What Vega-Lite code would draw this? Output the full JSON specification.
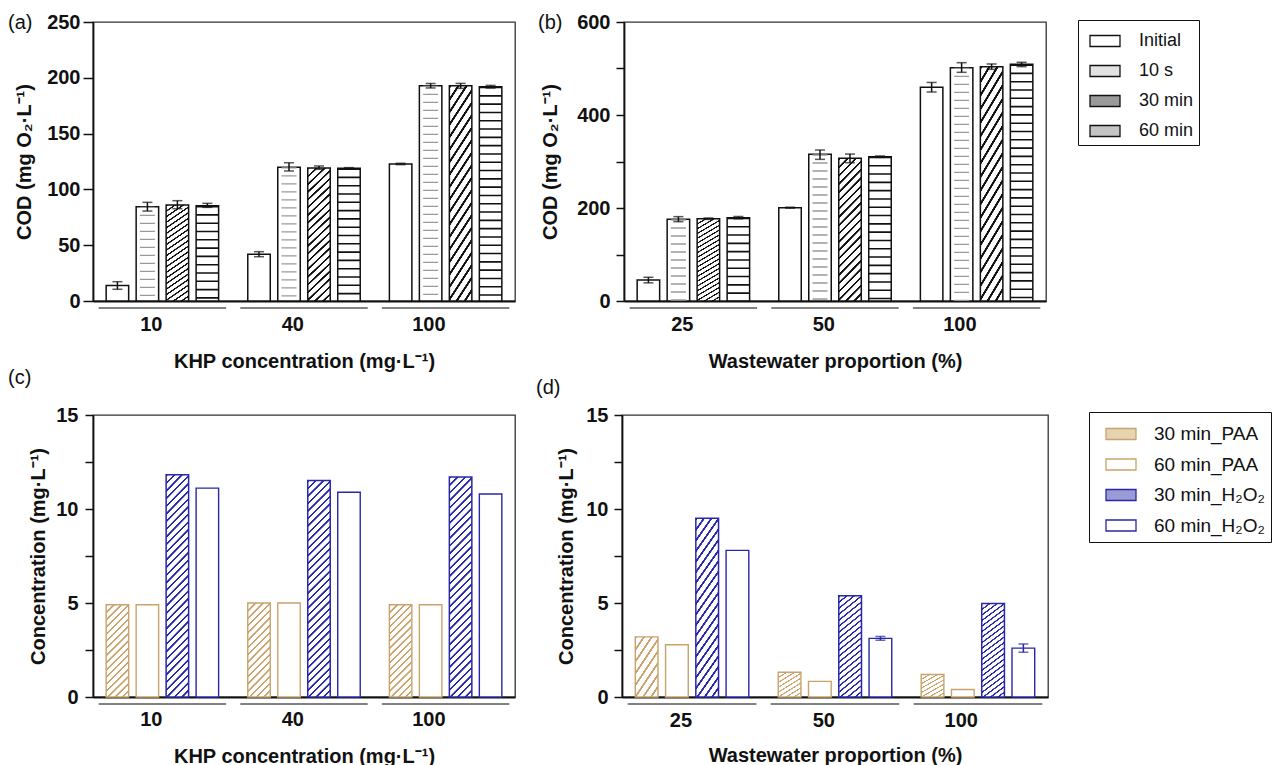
{
"$schema": "https://vega.github.io/schema/vega-lite/v6.json",
"padding": {"left": 7, "top": 11, "right": 5, "bottom": 0},
"background": "white",
"bounds": "flush",
"spacing": 393,
"resolve": {"scale": {"xOffset": "independent"}},
"config": {
  "font": "Liberation Sans",
  "view": {"stroke": "#333", "strokeWidth": 1.3},
  "axis": {"labelFont": "Liberation Sans", "labelFontSize": 20, "labelFontWeight": "bold", "labelColor": "#111",
           "titleFont": "Liberation Sans", "titleFontSize": 20, "titleFontWeight": "bold", "titleColor": "#111",
           "domainColor": "#111", "domainWidth": 1.8, "tickColor": "#111", "tickWidth": 1.5, "grid": false},
  "title": {"font": "Liberation Sans", "fontSize": 20, "fontWeight": "normal", "color": "#111", "anchor": "start", "frame": "group", "offset": 0}
},
"datasets": {
  "A": [
    {"g":"10","s":"Initial","v":14,"lo":10.5,"hi":17.3},
    {"g":"10","s":"10 s","v":84.5,"lo":80.6,"hi":88.4},
    {"g":"10","s":"30 min","v":86,"lo":82.7,"hi":89.9},
    {"g":"10","s":"60 min","v":85.3,"lo":83.9,"hi":87.5},
    {"g":"40","s":"Initial","v":41.8,"lo":39.7,"hi":44.2},
    {"g":"40","s":"10 s","v":119.8,"lo":116.5,"hi":123.9},
    {"g":"40","s":"30 min","v":119.2,"lo":118,"hi":121},
    {"g":"40","s":"60 min","v":118.9,"lo":118.3,"hi":119.5},
    {"g":"100","s":"Initial","v":122.8,"lo":122.2,"hi":123.4},
    {"g":"100","s":"10 s","v":192.9,"lo":190.9,"hi":194.9},
    {"g":"100","s":"30 min","v":192.8,"lo":190.5,"hi":195},
    {"g":"100","s":"60 min","v":192,"lo":190.8,"hi":193.2}
  ],
  "B": [
    {"g":"25","s":"Initial","v":45.2,"lo":39,"hi":51},
    {"g":"25","s":"10 s","v":175.6,"lo":170.6,"hi":181.4},
    {"g":"25","s":"30 min","v":177,"lo":175.5,"hi":178.5},
    {"g":"25","s":"60 min","v":179.2,"lo":176.7,"hi":181.7},
    {"g":"50","s":"Initial","v":200.7,"lo":199.7,"hi":201.7},
    {"g":"50","s":"10 s","v":315.4,"lo":304.6,"hi":324.7},
    {"g":"50","s":"30 min","v":306.8,"lo":297.4,"hi":316},
    {"g":"50","s":"60 min","v":310.4,"lo":308.9,"hi":311.9},
    {"g":"100","s":"Initial","v":459.5,"lo":449.5,"hi":470},
    {"g":"100","s":"10 s","v":501.8,"lo":491.8,"hi":512.5},
    {"g":"100","s":"30 min","v":503.9,"lo":498.2,"hi":509.7},
    {"g":"100","s":"60 min","v":509,"lo":504,"hi":513.3}
  ],
  "C": [
    {"g":"10","s":"30 min_PAA","v":4.91},{"g":"10","s":"60 min_PAA","v":4.91},{"g":"10","s":"30 min_H₂O₂","v":11.82},{"g":"10","s":"60 min_H₂O₂","v":11.11},
    {"g":"40","s":"30 min_PAA","v":5.0},{"g":"40","s":"60 min_PAA","v":5.0},{"g":"40","s":"30 min_H₂O₂","v":11.52},{"g":"40","s":"60 min_H₂O₂","v":10.89},
    {"g":"100","s":"30 min_PAA","v":4.91},{"g":"100","s":"60 min_PAA","v":4.91},{"g":"100","s":"30 min_H₂O₂","v":11.7},{"g":"100","s":"60 min_H₂O₂","v":10.8}
  ],
  "D": [
    {"g":"25","s":"30 min_PAA","v":3.2},{"g":"25","s":"60 min_PAA","v":2.78},{"g":"25","s":"30 min_H₂O₂","v":9.51},{"g":"25","s":"60 min_H₂O₂","v":7.8},
    {"g":"50","s":"30 min_PAA","v":1.32},{"g":"50","s":"60 min_PAA","v":0.83},{"g":"50","s":"30 min_H₂O₂","v":5.39},{"g":"50","s":"60 min_H₂O₂","v":3.12,"lo":3.02,"hi":3.22},
    {"g":"100","s":"30 min_PAA","v":1.2},{"g":"100","s":"60 min_PAA","v":0.4},{"g":"100","s":"30 min_H₂O₂","v":4.98},{"g":"100","s":"60 min_H₂O₂","v":2.6,"lo":2.38,"hi":2.82}
  ]
},
"vconcat": [
{"hconcat": [
{
  "width": 422, "height": 279,
  "title": {"text": "(a)", "dx": -85, "dy": 45, "baseline": "bottom"},
  "data": {"name": "A"},
  "layer": [
    {"transform": [{"filter": "datum.s === '30 min'"}],
     "mark": {"type": "bar", "stroke": "#111", "strokeWidth": 1.5,
              "fill": {"gradient":"linear","x1":0,"y1":0,"x2":0.1818,"y2":1.1315,"stops":[
                {"offset":0,"color":"#111"},{"offset":0.012,"color":"#111"},{"offset":0.015,"color":"white"},{"offset":0.047,"color":"white"},
                {"offset":0.05,"color":"#111"},{"offset":0.062,"color":"#111"},{"offset":0.065,"color":"white"},{"offset":0.097,"color":"white"},
                {"offset":0.1,"color":"#111"},{"offset":0.112,"color":"#111"},{"offset":0.115,"color":"white"},{"offset":0.147,"color":"white"},
                {"offset":0.15,"color":"#111"},{"offset":0.162,"color":"#111"},{"offset":0.165,"color":"white"},{"offset":0.197,"color":"white"},
                {"offset":0.2,"color":"#111"},{"offset":0.212,"color":"#111"},{"offset":0.215,"color":"white"},{"offset":0.247,"color":"white"},
                {"offset":0.25,"color":"#111"},{"offset":0.262,"color":"#111"},{"offset":0.265,"color":"white"},{"offset":0.297,"color":"white"},
                {"offset":0.3,"color":"#111"},{"offset":0.312,"color":"#111"},{"offset":0.315,"color":"white"},{"offset":0.347,"color":"white"},
                {"offset":0.35,"color":"#111"},{"offset":0.362,"color":"#111"},{"offset":0.365,"color":"white"},{"offset":0.397,"color":"white"},
                {"offset":0.4,"color":"#111"},{"offset":0.412,"color":"#111"},{"offset":0.415,"color":"white"},{"offset":0.447,"color":"white"},
                {"offset":0.45,"color":"#111"},{"offset":0.462,"color":"#111"},{"offset":0.465,"color":"white"},{"offset":0.497,"color":"white"},
                {"offset":0.5,"color":"#111"},{"offset":0.512,"color":"#111"},{"offset":0.515,"color":"white"},{"offset":0.547,"color":"white"},
                {"offset":0.55,"color":"#111"},{"offset":0.562,"color":"#111"},{"offset":0.565,"color":"white"},{"offset":0.597,"color":"white"},
                {"offset":0.6,"color":"#111"},{"offset":0.612,"color":"#111"},{"offset":0.615,"color":"white"},{"offset":0.647,"color":"white"},
                {"offset":0.65,"color":"#111"},{"offset":0.662,"color":"#111"},{"offset":0.665,"color":"white"},{"offset":0.697,"color":"white"},
                {"offset":0.7,"color":"#111"},{"offset":0.712,"color":"#111"},{"offset":0.715,"color":"white"},{"offset":0.747,"color":"white"},
                {"offset":0.75,"color":"#111"},{"offset":0.762,"color":"#111"},{"offset":0.765,"color":"white"},{"offset":0.797,"color":"white"},
                {"offset":0.8,"color":"#111"},{"offset":0.812,"color":"#111"},{"offset":0.815,"color":"white"},{"offset":0.847,"color":"white"},
                {"offset":0.85,"color":"#111"},{"offset":0.862,"color":"#111"},{"offset":0.865,"color":"white"},{"offset":0.897,"color":"white"},
                {"offset":0.9,"color":"#111"},{"offset":0.912,"color":"#111"},{"offset":0.915,"color":"white"},{"offset":0.947,"color":"white"},
                {"offset":0.95,"color":"#111"},{"offset":0.962,"color":"#111"},{"offset":0.965,"color":"white"},{"offset":0.997,"color":"white"}]}},
     "encoding": {
       "x": {"field":"g","type":"nominal","scale":{"type":"band","domain":["10","40","100"],"paddingInner":0.1,"paddingOuter":0.04}},
       "xOffset": {"field":"s","type":"nominal","scale":{"type":"band","domain":["Initial","10 s","30 min","60 min"],"paddingInner":0.25,"paddingOuter":0.25}},
       "y": {"field":"v","type":"quantitative","scale":{"domain":[0,250],"nice":false}}}},
    {"transform": [{"filter": "datum.s !== '30 min'"}],
     "mark": {"type": "bar", "fill": "white", "stroke": "#111", "strokeWidth": 1.5},
     "encoding": {
       "x": {"field":"g","type":"nominal","scale":{"type":"band","domain":["10","40","100"],"paddingInner":0.1,"paddingOuter":0.04},"axis":{"title":"KHP concentration (mg·L⁻¹)","domain":true,"ticks":false,"tickSize":0,"labelPadding":23,"labelAngle":0,"titlePadding":17}},
       "xOffset": {"field":"s","type":"nominal","scale":{"type":"band","domain":["Initial","10 s","30 min","60 min"],"paddingInner":0.25,"paddingOuter":0.25}},
       "y": {"field":"v","type":"quantitative","scale":{"domain":[0,250],"nice":false},
             "axis":{"title":"COD (mg O₂·L⁻¹)","values":[0,50,100,150,200,250],"tickSize":10,"labelPadding":3,"titlePadding":12}}}},
    {"transform": [{"filter": "datum.s === '60 min'"}],
     "mark": {"type": "rule", "stroke": "#111", "strokeWidth": 22.5, "strokeDash": [1.6, 6.7]},
     "encoding": {
       "x": {"field":"g","type":"nominal","scale":{"type":"band","domain":["10","40","100"],"paddingInner":0.1,"paddingOuter":0.04}},
       "xOffset": {"field":"s","type":"nominal","scale":{"type":"band","domain":["Initial","10 s","30 min","60 min"],"paddingInner":0.25,"paddingOuter":0.25}},
       "y": {"field":"v","type":"quantitative","scale":{"domain":[0,250],"nice":false}}}},
    {"transform": [{"filter": "datum.s === '10 s'"}],
     "mark": {"type": "rule", "stroke": "#9a9a9a", "strokeWidth": 15, "strokeDash": [1.3, 6.7]},
     "encoding": {
       "x": {"field":"g","type":"nominal","scale":{"type":"band","domain":["10","40","100"],"paddingInner":0.1,"paddingOuter":0.04}},
       "xOffset": {"field":"s","type":"nominal","scale":{"type":"band","domain":["Initial","10 s","30 min","60 min"],"paddingInner":0.25,"paddingOuter":0.25}},
       "y": {"field":"v","type":"quantitative","scale":{"domain":[0,250],"nice":false}}}},
    {"mark": {"type": "rule", "stroke": "#111", "strokeWidth": 1.5},
     "encoding": {
       "x": {"field":"g","type":"nominal","scale":{"type":"band","domain":["10","40","100"],"paddingInner":0.1,"paddingOuter":0.04}},
       "xOffset": {"field":"s","type":"nominal","scale":{"type":"band","domain":["Initial","10 s","30 min","60 min"],"paddingInner":0.25,"paddingOuter":0.25}},
       "y": {"field":"lo","type":"quantitative","scale":{"domain":[0,250],"nice":false}},
       "y2": {"field":"hi"}}},
    {"mark": {"type": "tick", "color": "#111", "size": 10, "thickness": 1.5},
     "encoding": {
       "x": {"field":"g","type":"nominal","scale":{"type":"band","domain":["10","40","100"],"paddingInner":0.1,"paddingOuter":0.04}},
       "xOffset": {"field":"s","type":"nominal","scale":{"type":"band","domain":["Initial","10 s","30 min","60 min"],"paddingInner":0.25,"paddingOuter":0.25}},
       "y": {"field":"lo","type":"quantitative","scale":{"domain":[0,250],"nice":false}}}},
    {"mark": {"type": "tick", "color": "#111", "size": 10, "thickness": 1.5},
     "encoding": {
       "x": {"field":"g","type":"nominal","scale":{"type":"band","domain":["10","40","100"],"paddingInner":0.1,"paddingOuter":0.04}},
       "xOffset": {"field":"s","type":"nominal","scale":{"type":"band","domain":["Initial","10 s","30 min","60 min"],"paddingInner":0.25,"paddingOuter":0.25}},
       "y": {"field":"hi","type":"quantitative","scale":{"domain":[0,250],"nice":false}}}},
    {"transform": [{"filter": "datum.s === 'Initial'"}],
     "mark": {"type": "tick", "color": "#111", "size": 127.4, "thickness": 1.6, "yOffset": 7},
     "encoding": {
       "x": {"field":"g","type":"nominal","scale":{"type":"band","domain":["10","40","100"],"paddingInner":0.1,"paddingOuter":0.04}},
       "y": {"datum":0,"type":"quantitative","scale":{"domain":[0,250],"nice":false}}}}
  ]
},
{
  "width": 422, "height": 279,
  "title": {"text": "(b)", "dx": -86, "dy": 45, "baseline": "bottom"},
  "data": {"name": "B"},
  "layer": [
    {"transform": [{"filter": "datum.s === '30 min'"}],
     "mark": {"type": "bar", "stroke": "#111", "strokeWidth": 1.5,
              "fill": {"gradient":"linear","x1":0,"y1":0,"x2":0.1818,"y2":1.1315,"stops":[
                {"offset":0,"color":"#111"},{"offset":0.012,"color":"#111"},{"offset":0.015,"color":"white"},{"offset":0.047,"color":"white"},
                {"offset":0.05,"color":"#111"},{"offset":0.062,"color":"#111"},{"offset":0.065,"color":"white"},{"offset":0.097,"color":"white"},
                {"offset":0.1,"color":"#111"},{"offset":0.112,"color":"#111"},{"offset":0.115,"color":"white"},{"offset":0.147,"color":"white"},
                {"offset":0.15,"color":"#111"},{"offset":0.162,"color":"#111"},{"offset":0.165,"color":"white"},{"offset":0.197,"color":"white"},
                {"offset":0.2,"color":"#111"},{"offset":0.212,"color":"#111"},{"offset":0.215,"color":"white"},{"offset":0.247,"color":"white"},
                {"offset":0.25,"color":"#111"},{"offset":0.262,"color":"#111"},{"offset":0.265,"color":"white"},{"offset":0.297,"color":"white"},
                {"offset":0.3,"color":"#111"},{"offset":0.312,"color":"#111"},{"offset":0.315,"color":"white"},{"offset":0.347,"color":"white"},
                {"offset":0.35,"color":"#111"},{"offset":0.362,"color":"#111"},{"offset":0.365,"color":"white"},{"offset":0.397,"color":"white"},
                {"offset":0.4,"color":"#111"},{"offset":0.412,"color":"#111"},{"offset":0.415,"color":"white"},{"offset":0.447,"color":"white"},
                {"offset":0.45,"color":"#111"},{"offset":0.462,"color":"#111"},{"offset":0.465,"color":"white"},{"offset":0.497,"color":"white"},
                {"offset":0.5,"color":"#111"},{"offset":0.512,"color":"#111"},{"offset":0.515,"color":"white"},{"offset":0.547,"color":"white"},
                {"offset":0.55,"color":"#111"},{"offset":0.562,"color":"#111"},{"offset":0.565,"color":"white"},{"offset":0.597,"color":"white"},
                {"offset":0.6,"color":"#111"},{"offset":0.612,"color":"#111"},{"offset":0.615,"color":"white"},{"offset":0.647,"color":"white"},
                {"offset":0.65,"color":"#111"},{"offset":0.662,"color":"#111"},{"offset":0.665,"color":"white"},{"offset":0.697,"color":"white"},
                {"offset":0.7,"color":"#111"},{"offset":0.712,"color":"#111"},{"offset":0.715,"color":"white"},{"offset":0.747,"color":"white"},
                {"offset":0.75,"color":"#111"},{"offset":0.762,"color":"#111"},{"offset":0.765,"color":"white"},{"offset":0.797,"color":"white"},
                {"offset":0.8,"color":"#111"},{"offset":0.812,"color":"#111"},{"offset":0.815,"color":"white"},{"offset":0.847,"color":"white"},
                {"offset":0.85,"color":"#111"},{"offset":0.862,"color":"#111"},{"offset":0.865,"color":"white"},{"offset":0.897,"color":"white"},
                {"offset":0.9,"color":"#111"},{"offset":0.912,"color":"#111"},{"offset":0.915,"color":"white"},{"offset":0.947,"color":"white"},
                {"offset":0.95,"color":"#111"},{"offset":0.962,"color":"#111"},{"offset":0.965,"color":"white"},{"offset":0.997,"color":"white"}]}},
     "encoding": {
       "x": {"field":"g","type":"nominal","scale":{"type":"band","domain":["25","50","100"],"paddingInner":0.1,"paddingOuter":0.04}},
       "xOffset": {"field":"s","type":"nominal","scale":{"type":"band","domain":["Initial","10 s","30 min","60 min"],"paddingInner":0.25,"paddingOuter":0.25}},
       "y": {"field":"v","type":"quantitative","scale":{"domain":[0,600],"nice":false}}}},
    {"transform": [{"filter": "datum.s !== '30 min'"}],
     "mark": {"type": "bar", "fill": "white", "stroke": "#111", "strokeWidth": 1.5},
     "encoding": {
       "x": {"field":"g","type":"nominal","scale":{"type":"band","domain":["25","50","100"],"paddingInner":0.1,"paddingOuter":0.04},"axis":{"title":"Wastewater proportion (%)","domain":true,"ticks":false,"tickSize":0,"labelPadding":23,"labelAngle":0,"titlePadding":17}},
       "xOffset": {"field":"s","type":"nominal","scale":{"type":"band","domain":["Initial","10 s","30 min","60 min"],"paddingInner":0.25,"paddingOuter":0.25}},
       "y": {"field":"v","type":"quantitative","scale":{"domain":[0,600],"nice":false},
             "axis":{"title":"COD (mg O₂·L⁻¹)","values":[0,50,100,150,200,250,300,350,400,450,500,550,600],
                     "labelExpr":"datum.value % 200 === 0 ? datum.label : ''",
                     "tickSize":8,"labelPadding":6,"titlePadding":16}}}},
    {"transform": [{"filter": "datum.s === '60 min'"}],
     "mark": {"type": "rule", "stroke": "#111", "strokeWidth": 22.5, "strokeDash": [1.6, 6.7]},
     "encoding": {
       "x": {"field":"g","type":"nominal","scale":{"type":"band","domain":["25","50","100"],"paddingInner":0.1,"paddingOuter":0.04}},
       "xOffset": {"field":"s","type":"nominal","scale":{"type":"band","domain":["Initial","10 s","30 min","60 min"],"paddingInner":0.25,"paddingOuter":0.25}},
       "y": {"field":"v","type":"quantitative","scale":{"domain":[0,600],"nice":false}}}},
    {"transform": [{"filter": "datum.s === '10 s'"}],
     "mark": {"type": "rule", "stroke": "#9a9a9a", "strokeWidth": 15, "strokeDash": [1.3, 6.7]},
     "encoding": {
       "x": {"field":"g","type":"nominal","scale":{"type":"band","domain":["25","50","100"],"paddingInner":0.1,"paddingOuter":0.04}},
       "xOffset": {"field":"s","type":"nominal","scale":{"type":"band","domain":["Initial","10 s","30 min","60 min"],"paddingInner":0.25,"paddingOuter":0.25}},
       "y": {"field":"v","type":"quantitative","scale":{"domain":[0,600],"nice":false}}}},
    {"mark": {"type": "rule", "stroke": "#111", "strokeWidth": 1.5},
     "encoding": {
       "x": {"field":"g","type":"nominal","scale":{"type":"band","domain":["25","50","100"],"paddingInner":0.1,"paddingOuter":0.04}},
       "xOffset": {"field":"s","type":"nominal","scale":{"type":"band","domain":["Initial","10 s","30 min","60 min"],"paddingInner":0.25,"paddingOuter":0.25}},
       "y": {"field":"lo","type":"quantitative","scale":{"domain":[0,600],"nice":false}},
       "y2": {"field":"hi"}}},
    {"mark": {"type": "tick", "color": "#111", "size": 10, "thickness": 1.5},
     "encoding": {
       "x": {"field":"g","type":"nominal","scale":{"type":"band","domain":["25","50","100"],"paddingInner":0.1,"paddingOuter":0.04}},
       "xOffset": {"field":"s","type":"nominal","scale":{"type":"band","domain":["Initial","10 s","30 min","60 min"],"paddingInner":0.25,"paddingOuter":0.25}},
       "y": {"field":"lo","type":"quantitative","scale":{"domain":[0,600],"nice":false}}}},
    {"mark": {"type": "tick", "color": "#111", "size": 10, "thickness": 1.5},
     "encoding": {
       "x": {"field":"g","type":"nominal","scale":{"type":"band","domain":["25","50","100"],"paddingInner":0.1,"paddingOuter":0.04}},
       "xOffset": {"field":"s","type":"nominal","scale":{"type":"band","domain":["Initial","10 s","30 min","60 min"],"paddingInner":0.25,"paddingOuter":0.25}},
       "y": {"field":"hi","type":"quantitative","scale":{"domain":[0,600],"nice":false}}}},
    {"transform": [{"filter": "datum.s === 'Initial'"}],
     "mark": {"type": "tick", "color": "#111", "size": 127.4, "thickness": 1.6, "yOffset": 7},
     "encoding": {
       "x": {"field":"g","type":"nominal","scale":{"type":"band","domain":["25","50","100"],"paddingInner":0.1,"paddingOuter":0.04}},
       "y": {"datum":0,"type":"quantitative","scale":{"domain":[0,600],"nice":false}}}},
    {"transform": [{"filter": "false"}],
     "mark": {"type": "bar", "stroke": "#111", "strokeWidth": 1.3},
     "encoding": {
       "x": {"field":"g","type":"nominal","scale":{"type":"band","domain":["25","50","100"],"paddingInner":0.1,"paddingOuter":0.04}},
       "xOffset": {"field":"s","type":"nominal","scale":{"type":"band","domain":["Initial","10 s","30 min","60 min"],"paddingInner":0.25,"paddingOuter":0.25}},
       "y": {"field":"v","type":"quantitative","scale":{"domain":[0,600],"nice":false}},
       "fill": {"field":"s","type":"nominal",
         "scale":{"domain":["Initial","10 s","30 min","60 min"],"range":["white","#e2e2e2","#9a9a9a","#c4c4c4"]},
         "legend":{"title":null,"orient":"none","legendX":985,"legendY":-2,"symbolType":"M-1,-0.3667H1V0.3667H-1Z","symbolSize":900,
                   "symbolStrokeColor":"#111","symbolStrokeWidth":1.3,"labelFont":"Liberation Sans","labelFontSize":18,"labelFontWeight":"normal",
                   "labelColor":"#111","labelOffset":18,"padding":5,"symbolOffset":6,"rowPadding":5,"strokeColor":"#111","fillColor":"white"}}}}
  ]
}
], "spacing": 109, "bounds": "flush", "resolve": {"scale": {"xOffset": "independent"}}},
{"hconcat": [
{
  "width": 422, "height": 282,
  "title": {"text": "(c)", "dx": -85, "dy": 7, "baseline": "bottom"},
  "data": {"name": "C"},
  "layer": [
    {"transform": [{"filter": "datum.s === '30 min_PAA'"}],
     "mark": {"type": "bar", "stroke": "#c9a36b", "strokeWidth": 1.4,
              "fill": {"gradient":"linear","x1":0,"y1":0,"x2":0.2839,"y2":1.1733,"stops":[
                {"offset":0,"color":"#c9a36b"},{"offset":0.015,"color":"#c9a36b"},{"offset":0.019,"color":"white"},{"offset":0.0585,"color":"white"},
                {"offset":0.0625,"color":"#c9a36b"},{"offset":0.0775,"color":"#c9a36b"},{"offset":0.0815,"color":"white"},{"offset":0.121,"color":"white"},
                {"offset":0.125,"color":"#c9a36b"},{"offset":0.14,"color":"#c9a36b"},{"offset":0.144,"color":"white"},{"offset":0.1835,"color":"white"},
                {"offset":0.1875,"color":"#c9a36b"},{"offset":0.2025,"color":"#c9a36b"},{"offset":0.2065,"color":"white"},{"offset":0.246,"color":"white"},
                {"offset":0.25,"color":"#c9a36b"},{"offset":0.265,"color":"#c9a36b"},{"offset":0.269,"color":"white"},{"offset":0.3085,"color":"white"},
                {"offset":0.3125,"color":"#c9a36b"},{"offset":0.3275,"color":"#c9a36b"},{"offset":0.3315,"color":"white"},{"offset":0.371,"color":"white"},
                {"offset":0.375,"color":"#c9a36b"},{"offset":0.39,"color":"#c9a36b"},{"offset":0.394,"color":"white"},{"offset":0.4335,"color":"white"},
                {"offset":0.4375,"color":"#c9a36b"},{"offset":0.4525,"color":"#c9a36b"},{"offset":0.4565,"color":"white"},{"offset":0.496,"color":"white"},
                {"offset":0.5,"color":"#c9a36b"},{"offset":0.515,"color":"#c9a36b"},{"offset":0.519,"color":"white"},{"offset":0.5585,"color":"white"},
                {"offset":0.5625,"color":"#c9a36b"},{"offset":0.5775,"color":"#c9a36b"},{"offset":0.5815,"color":"white"},{"offset":0.621,"color":"white"},
                {"offset":0.625,"color":"#c9a36b"},{"offset":0.64,"color":"#c9a36b"},{"offset":0.644,"color":"white"},{"offset":0.6835,"color":"white"},
                {"offset":0.6875,"color":"#c9a36b"},{"offset":0.7025,"color":"#c9a36b"},{"offset":0.7065,"color":"white"},{"offset":0.746,"color":"white"},
                {"offset":0.75,"color":"#c9a36b"},{"offset":0.765,"color":"#c9a36b"},{"offset":0.769,"color":"white"},{"offset":0.8085,"color":"white"},
                {"offset":0.8125,"color":"#c9a36b"},{"offset":0.8275,"color":"#c9a36b"},{"offset":0.8315,"color":"white"},{"offset":0.871,"color":"white"},
                {"offset":0.875,"color":"#c9a36b"},{"offset":0.89,"color":"#c9a36b"},{"offset":0.894,"color":"white"},{"offset":0.9335,"color":"white"},
                {"offset":0.9375,"color":"#c9a36b"},{"offset":0.9525,"color":"#c9a36b"},{"offset":0.9565,"color":"white"},{"offset":0.996,"color":"white"}]}},
     "encoding": {
       "x": {"field":"g","type":"nominal","scale":{"type":"band","domain":["10","40","100"],"paddingInner":0.1,"paddingOuter":0.04}},
       "xOffset": {"field":"s","type":"nominal","scale":{"type":"band","domain":["30 min_PAA","60 min_PAA","30 min_H₂O₂","60 min_H₂O₂"],"paddingInner":0.25,"paddingOuter":0.25}},
       "y": {"field":"v","type":"quantitative","scale":{"domain":[0,15],"nice":false}}}},
    {"transform": [{"filter": "datum.s === '30 min_H₂O₂'"}],
     "mark": {"type": "bar", "stroke": "#2828a8", "strokeWidth": 1.5,
              "fill": {"gradient":"linear","x1":0,"y1":0,"x2":0.1127,"y2":1.0916,"stops":[
                {"offset":0,"color":"#2828a8"},{"offset":0.0075,"color":"#2828a8"},{"offset":0.0095,"color":"white"},{"offset":0.0293,"color":"white"},
                {"offset":0.03125,"color":"#2828a8"},{"offset":0.03875,"color":"#2828a8"},{"offset":0.04075,"color":"white"},{"offset":0.06055,"color":"white"},
                {"offset":0.0625,"color":"#2828a8"},{"offset":0.07,"color":"#2828a8"},{"offset":0.072,"color":"white"},{"offset":0.0918,"color":"white"},
                {"offset":0.09375,"color":"#2828a8"},{"offset":0.10125,"color":"#2828a8"},{"offset":0.10325,"color":"white"},{"offset":0.12305,"color":"white"},
                {"offset":0.125,"color":"#2828a8"},{"offset":0.1325,"color":"#2828a8"},{"offset":0.1345,"color":"white"},{"offset":0.1543,"color":"white"},
                {"offset":0.15625,"color":"#2828a8"},{"offset":0.16375,"color":"#2828a8"},{"offset":0.16575,"color":"white"},{"offset":0.18555,"color":"white"},
                {"offset":0.1875,"color":"#2828a8"},{"offset":0.195,"color":"#2828a8"},{"offset":0.197,"color":"white"},{"offset":0.2168,"color":"white"},
                {"offset":0.21875,"color":"#2828a8"},{"offset":0.22625,"color":"#2828a8"},{"offset":0.22825,"color":"white"},{"offset":0.24805,"color":"white"},
                {"offset":0.25,"color":"#2828a8"},{"offset":0.2575,"color":"#2828a8"},{"offset":0.2595,"color":"white"},{"offset":0.2793,"color":"white"},
                {"offset":0.28125,"color":"#2828a8"},{"offset":0.28875,"color":"#2828a8"},{"offset":0.29075,"color":"white"},{"offset":0.31055,"color":"white"},
                {"offset":0.3125,"color":"#2828a8"},{"offset":0.32,"color":"#2828a8"},{"offset":0.322,"color":"white"},{"offset":0.3418,"color":"white"},
                {"offset":0.34375,"color":"#2828a8"},{"offset":0.35125,"color":"#2828a8"},{"offset":0.35325,"color":"white"},{"offset":0.37305,"color":"white"},
                {"offset":0.375,"color":"#2828a8"},{"offset":0.3825,"color":"#2828a8"},{"offset":0.3845,"color":"white"},{"offset":0.4043,"color":"white"},
                {"offset":0.40625,"color":"#2828a8"},{"offset":0.41375,"color":"#2828a8"},{"offset":0.41575,"color":"white"},{"offset":0.43555,"color":"white"},
                {"offset":0.4375,"color":"#2828a8"},{"offset":0.445,"color":"#2828a8"},{"offset":0.447,"color":"white"},{"offset":0.4668,"color":"white"},
                {"offset":0.46875,"color":"#2828a8"},{"offset":0.47625,"color":"#2828a8"},{"offset":0.47825,"color":"white"},{"offset":0.49805,"color":"white"},
                {"offset":0.5,"color":"#2828a8"},{"offset":0.5075,"color":"#2828a8"},{"offset":0.5095,"color":"white"},{"offset":0.5293,"color":"white"},
                {"offset":0.53125,"color":"#2828a8"},{"offset":0.53875,"color":"#2828a8"},{"offset":0.54075,"color":"white"},{"offset":0.56055,"color":"white"},
                {"offset":0.5625,"color":"#2828a8"},{"offset":0.57,"color":"#2828a8"},{"offset":0.572,"color":"white"},{"offset":0.5918,"color":"white"},
                {"offset":0.59375,"color":"#2828a8"},{"offset":0.60125,"color":"#2828a8"},{"offset":0.60325,"color":"white"},{"offset":0.62305,"color":"white"},
                {"offset":0.625,"color":"#2828a8"},{"offset":0.6325,"color":"#2828a8"},{"offset":0.6345,"color":"white"},{"offset":0.6543,"color":"white"},
                {"offset":0.65625,"color":"#2828a8"},{"offset":0.66375,"color":"#2828a8"},{"offset":0.66575,"color":"white"},{"offset":0.68555,"color":"white"},
                {"offset":0.6875,"color":"#2828a8"},{"offset":0.695,"color":"#2828a8"},{"offset":0.697,"color":"white"},{"offset":0.7168,"color":"white"},
                {"offset":0.71875,"color":"#2828a8"},{"offset":0.72625,"color":"#2828a8"},{"offset":0.72825,"color":"white"},{"offset":0.74805,"color":"white"},
                {"offset":0.75,"color":"#2828a8"},{"offset":0.7575,"color":"#2828a8"},{"offset":0.7595,"color":"white"},{"offset":0.7793,"color":"white"},
                {"offset":0.78125,"color":"#2828a8"},{"offset":0.78875,"color":"#2828a8"},{"offset":0.79075,"color":"white"},{"offset":0.81055,"color":"white"},
                {"offset":0.8125,"color":"#2828a8"},{"offset":0.82,"color":"#2828a8"},{"offset":0.822,"color":"white"},{"offset":0.8418,"color":"white"},
                {"offset":0.84375,"color":"#2828a8"},{"offset":0.85125,"color":"#2828a8"},{"offset":0.85325,"color":"white"},{"offset":0.87305,"color":"white"},
                {"offset":0.875,"color":"#2828a8"},{"offset":0.8825,"color":"#2828a8"},{"offset":0.8845,"color":"white"},{"offset":0.9043,"color":"white"},
                {"offset":0.90625,"color":"#2828a8"},{"offset":0.91375,"color":"#2828a8"},{"offset":0.91575,"color":"white"},{"offset":0.93555,"color":"white"},
                {"offset":0.9375,"color":"#2828a8"},{"offset":0.945,"color":"#2828a8"},{"offset":0.947,"color":"white"},{"offset":0.9668,"color":"white"},
                {"offset":0.96875,"color":"#2828a8"},{"offset":0.97625,"color":"#2828a8"},{"offset":0.97825,"color":"white"},{"offset":0.99805,"color":"white"}]}},
     "encoding": {
       "x": {"field":"g","type":"nominal","scale":{"type":"band","domain":["10","40","100"],"paddingInner":0.1,"paddingOuter":0.04}},
       "xOffset": {"field":"s","type":"nominal","scale":{"type":"band","domain":["30 min_PAA","60 min_PAA","30 min_H₂O₂","60 min_H₂O₂"],"paddingInner":0.25,"paddingOuter":0.25}},
       "y": {"field":"v","type":"quantitative","scale":{"domain":[0,15],"nice":false}}}},
    {"transform": [{"filter": "datum.s === '60 min_PAA' || datum.s === '60 min_H₂O₂'"}],
     "mark": {"type": "bar", "fill": "white", "strokeWidth": 1.4},
     "encoding": {
       "x": {"field":"g","type":"nominal","scale":{"type":"band","domain":["10","40","100"],"paddingInner":0.1,"paddingOuter":0.04},"axis":{"title":"KHP concentration (mg·L⁻¹)","domain":true,"ticks":false,"tickSize":0,"labelPadding":22,"labelAngle":0,"titlePadding":17}},
       "xOffset": {"field":"s","type":"nominal","scale":{"type":"band","domain":["30 min_PAA","60 min_PAA","30 min_H₂O₂","60 min_H₂O₂"],"paddingInner":0.25,"paddingOuter":0.25}},
       "y": {"field":"v","type":"quantitative","scale":{"domain":[0,15],"nice":false},
             "axis":{"title":"Concentration (mg·L⁻¹)","values":[0,2.5,5,7.5,10,12.5,15],
                     "labelExpr":"datum.value % 5 === 0 ? datum.label : ''",
                     "tickSize":8,"labelPadding":7,"titlePadding":7}},
       "stroke": {"condition":{"test":"datum.s === '60 min_PAA'","value":"#c9a36b"},"value":"#2828a8"}}},
    {"transform": [{"filter": "datum.s === '30 min_PAA'"}],
     "mark": {"type": "tick", "color": "#111", "size": 127.4, "thickness": 1.6, "yOffset": 7},
     "encoding": {
       "x": {"field":"g","type":"nominal","scale":{"type":"band","domain":["10","40","100"],"paddingInner":0.1,"paddingOuter":0.04}},
       "y": {"datum":0,"type":"quantitative","scale":{"domain":[0,15],"nice":false}}}}
  ]
},
{
  "width": 426, "height": 282,
  "title": {"text": "(d)", "dx": -86, "dy": 17, "baseline": "bottom"},
  "data": {"name": "D"},
  "layer": [
    {"transform": [{"filter": "datum.s === '30 min_PAA'"}],
     "mark": {"type": "bar", "stroke": "#c9a36b", "strokeWidth": 1.4,
              "fill": {"gradient":"linear","x1":0,"y1":0,"x2":0.6729,"y2":1.1856,"stops":[
                {"offset":0,"color":"#c9a36b"},{"offset":0.028,"color":"#c9a36b"},{"offset":0.035,"color":"white"},{"offset":0.118,"color":"white"},
                {"offset":0.125,"color":"#c9a36b"},{"offset":0.153,"color":"#c9a36b"},{"offset":0.16,"color":"white"},{"offset":0.243,"color":"white"},
                {"offset":0.25,"color":"#c9a36b"},{"offset":0.278,"color":"#c9a36b"},{"offset":0.285,"color":"white"},{"offset":0.368,"color":"white"},
                {"offset":0.375,"color":"#c9a36b"},{"offset":0.403,"color":"#c9a36b"},{"offset":0.41,"color":"white"},{"offset":0.493,"color":"white"},
                {"offset":0.5,"color":"#c9a36b"},{"offset":0.528,"color":"#c9a36b"},{"offset":0.535,"color":"white"},{"offset":0.618,"color":"white"},
                {"offset":0.625,"color":"#c9a36b"},{"offset":0.653,"color":"#c9a36b"},{"offset":0.66,"color":"white"},{"offset":0.743,"color":"white"},
                {"offset":0.75,"color":"#c9a36b"},{"offset":0.778,"color":"#c9a36b"},{"offset":0.785,"color":"white"},{"offset":0.868,"color":"white"},
                {"offset":0.875,"color":"#c9a36b"},{"offset":0.903,"color":"#c9a36b"},{"offset":0.91,"color":"white"},{"offset":0.993,"color":"white"}]}},
     "encoding": {
       "x": {"field":"g","type":"nominal","scale":{"type":"band","domain":["25","50","100"],"paddingInner":0.1,"paddingOuter":0.04}},
       "xOffset": {"field":"s","type":"nominal","scale":{"type":"band","domain":["30 min_PAA","60 min_PAA","30 min_H₂O₂","60 min_H₂O₂"],"paddingInner":0.25,"paddingOuter":0.25}},
       "y": {"field":"v","type":"quantitative","scale":{"domain":[0,15],"nice":false}}}},
    {"transform": [{"filter": "datum.s === '30 min_H₂O₂'"}],
     "mark": {"type": "bar", "stroke": "#2828a8", "strokeWidth": 1.5,
              "fill": {"gradient":"linear","x1":0,"y1":0,"x2":0.2077,"y2":1.1439,"stops":[
                {"offset":0,"color":"#2828a8"},{"offset":0.012,"color":"#2828a8"},{"offset":0.015,"color":"white"},{"offset":0.047,"color":"white"},
                {"offset":0.05,"color":"#2828a8"},{"offset":0.062,"color":"#2828a8"},{"offset":0.065,"color":"white"},{"offset":0.097,"color":"white"},
                {"offset":0.1,"color":"#2828a8"},{"offset":0.112,"color":"#2828a8"},{"offset":0.115,"color":"white"},{"offset":0.147,"color":"white"},
                {"offset":0.15,"color":"#2828a8"},{"offset":0.162,"color":"#2828a8"},{"offset":0.165,"color":"white"},{"offset":0.197,"color":"white"},
                {"offset":0.2,"color":"#2828a8"},{"offset":0.212,"color":"#2828a8"},{"offset":0.215,"color":"white"},{"offset":0.247,"color":"white"},
                {"offset":0.25,"color":"#2828a8"},{"offset":0.262,"color":"#2828a8"},{"offset":0.265,"color":"white"},{"offset":0.297,"color":"white"},
                {"offset":0.3,"color":"#2828a8"},{"offset":0.312,"color":"#2828a8"},{"offset":0.315,"color":"white"},{"offset":0.347,"color":"white"},
                {"offset":0.35,"color":"#2828a8"},{"offset":0.362,"color":"#2828a8"},{"offset":0.365,"color":"white"},{"offset":0.397,"color":"white"},
                {"offset":0.4,"color":"#2828a8"},{"offset":0.412,"color":"#2828a8"},{"offset":0.415,"color":"white"},{"offset":0.447,"color":"white"},
                {"offset":0.45,"color":"#2828a8"},{"offset":0.462,"color":"#2828a8"},{"offset":0.465,"color":"white"},{"offset":0.497,"color":"white"},
                {"offset":0.5,"color":"#2828a8"},{"offset":0.512,"color":"#2828a8"},{"offset":0.515,"color":"white"},{"offset":0.547,"color":"white"},
                {"offset":0.55,"color":"#2828a8"},{"offset":0.562,"color":"#2828a8"},{"offset":0.565,"color":"white"},{"offset":0.597,"color":"white"},
                {"offset":0.6,"color":"#2828a8"},{"offset":0.612,"color":"#2828a8"},{"offset":0.615,"color":"white"},{"offset":0.647,"color":"white"},
                {"offset":0.65,"color":"#2828a8"},{"offset":0.662,"color":"#2828a8"},{"offset":0.665,"color":"white"},{"offset":0.697,"color":"white"},
                {"offset":0.7,"color":"#2828a8"},{"offset":0.712,"color":"#2828a8"},{"offset":0.715,"color":"white"},{"offset":0.747,"color":"white"},
                {"offset":0.75,"color":"#2828a8"},{"offset":0.762,"color":"#2828a8"},{"offset":0.765,"color":"white"},{"offset":0.797,"color":"white"},
                {"offset":0.8,"color":"#2828a8"},{"offset":0.812,"color":"#2828a8"},{"offset":0.815,"color":"white"},{"offset":0.847,"color":"white"},
                {"offset":0.85,"color":"#2828a8"},{"offset":0.862,"color":"#2828a8"},{"offset":0.865,"color":"white"},{"offset":0.897,"color":"white"},
                {"offset":0.9,"color":"#2828a8"},{"offset":0.912,"color":"#2828a8"},{"offset":0.915,"color":"white"},{"offset":0.947,"color":"white"},
                {"offset":0.95,"color":"#2828a8"},{"offset":0.962,"color":"#2828a8"},{"offset":0.965,"color":"white"},{"offset":0.997,"color":"white"}]}},
     "encoding": {
       "x": {"field":"g","type":"nominal","scale":{"type":"band","domain":["25","50","100"],"paddingInner":0.1,"paddingOuter":0.04}},
       "xOffset": {"field":"s","type":"nominal","scale":{"type":"band","domain":["30 min_PAA","60 min_PAA","30 min_H₂O₂","60 min_H₂O₂"],"paddingInner":0.25,"paddingOuter":0.25}},
       "y": {"field":"v","type":"quantitative","scale":{"domain":[0,15],"nice":false}}}},
    {"transform": [{"filter": "datum.s === '60 min_PAA' || datum.s === '60 min_H₂O₂'"}],
     "mark": {"type": "bar", "fill": "white", "strokeWidth": 1.4},
     "encoding": {
       "x": {"field":"g","type":"nominal","scale":{"type":"band","domain":["25","50","100"],"paddingInner":0.1,"paddingOuter":0.04},"axis":{"title":"Wastewater proportion (%)","domain":true,"ticks":false,"tickSize":0,"labelPadding":23,"labelAngle":0,"titlePadding":15}},
       "xOffset": {"field":"s","type":"nominal","scale":{"type":"band","domain":["30 min_PAA","60 min_PAA","30 min_H₂O₂","60 min_H₂O₂"],"paddingInner":0.25,"paddingOuter":0.25}},
       "y": {"field":"v","type":"quantitative","scale":{"domain":[0,15],"nice":false},
             "axis":{"title":"Concentration (mg·L⁻¹)","values":[0,2.5,5,7.5,10,12.5,15],
                     "labelExpr":"datum.value % 5 === 0 ? datum.label : ''",
                     "tickSize":8,"labelPadding":6,"titlePadding":9}},
       "stroke": {"condition":{"test":"datum.s === '60 min_PAA'","value":"#c9a36b"},"value":"#2828a8"}}},
    {"mark": {"type": "rule", "stroke": "#2828a8", "strokeWidth": 1.5},
     "encoding": {
       "x": {"field":"g","type":"nominal","scale":{"type":"band","domain":["25","50","100"],"paddingInner":0.1,"paddingOuter":0.04}},
       "xOffset": {"field":"s","type":"nominal","scale":{"type":"band","domain":["30 min_PAA","60 min_PAA","30 min_H₂O₂","60 min_H₂O₂"],"paddingInner":0.25,"paddingOuter":0.25}},
       "y": {"field":"lo","type":"quantitative","scale":{"domain":[0,15],"nice":false}},
       "y2": {"field":"hi"}}},
    {"mark": {"type": "tick", "color": "#2828a8", "size": 10, "thickness": 1.5},
     "encoding": {
       "x": {"field":"g","type":"nominal","scale":{"type":"band","domain":["25","50","100"],"paddingInner":0.1,"paddingOuter":0.04}},
       "xOffset": {"field":"s","type":"nominal","scale":{"type":"band","domain":["30 min_PAA","60 min_PAA","30 min_H₂O₂","60 min_H₂O₂"],"paddingInner":0.25,"paddingOuter":0.25}},
       "y": {"field":"lo","type":"quantitative","scale":{"domain":[0,15],"nice":false}}}},
    {"mark": {"type": "tick", "color": "#2828a8", "size": 10, "thickness": 1.5},
     "encoding": {
       "x": {"field":"g","type":"nominal","scale":{"type":"band","domain":["25","50","100"],"paddingInner":0.1,"paddingOuter":0.04}},
       "xOffset": {"field":"s","type":"nominal","scale":{"type":"band","domain":["30 min_PAA","60 min_PAA","30 min_H₂O₂","60 min_H₂O₂"],"paddingInner":0.25,"paddingOuter":0.25}},
       "y": {"field":"hi","type":"quantitative","scale":{"domain":[0,15],"nice":false}}}},
    {"transform": [{"filter": "datum.s === '30 min_PAA'"}],
     "mark": {"type": "tick", "color": "#111", "size": 128.7, "thickness": 1.6, "yOffset": 7},
     "encoding": {
       "x": {"field":"g","type":"nominal","scale":{"type":"band","domain":["25","50","100"],"paddingInner":0.1,"paddingOuter":0.04}},
       "y": {"datum":0,"type":"quantitative","scale":{"domain":[0,15],"nice":false}}}},
    {"transform": [{"filter": "false"}],
     "mark": {"type": "bar", "strokeWidth": 1.3},
     "encoding": {
       "x": {"field":"g","type":"nominal","scale":{"type":"band","domain":["25","50","100"],"paddingInner":0.1,"paddingOuter":0.04}},
       "xOffset": {"field":"s","type":"nominal","scale":{"type":"band","domain":["30 min_PAA","60 min_PAA","30 min_H₂O₂","60 min_H₂O₂"],"paddingInner":0.25,"paddingOuter":0.25}},
       "y": {"field":"v","type":"quantitative","scale":{"domain":[0,15],"nice":false}},
       "color": {"field":"s","type":"nominal",
         "scale":{"domain":["30 min_PAA","60 min_PAA","30 min_H₂O₂","60 min_H₂O₂"],"range":["#e6d3b0","white","#9a9ad6","white"]},
         "legend":{"title":null,"orient":"none","legendX":996,"legendY":390,"symbolType":"M-1,-0.3667H1V0.3667H-1Z","symbolSize":900,
                   "symbolStrokeWidth":1.3,"labelFont":"Liberation Sans","labelFontSize":19,"labelFontWeight":"normal",
                   "labelColor":"#111","labelOffset":17,"padding":6,"symbolOffset":10,"rowPadding":4.5,"strokeColor":"#111","fillColor":"white"}},
       "stroke": {"field":"s","type":"nominal",
         "scale":{"domain":["30 min_PAA","60 min_PAA","30 min_H₂O₂","60 min_H₂O₂"],"range":["#c9a36b","#c9a36b","#2828a8","#2828a8"]},
         "legend":{"title":null,"orient":"none","legendX":996,"legendY":390,"symbolType":"M-1,-0.3667H1V0.3667H-1Z","symbolSize":900,
                   "symbolStrokeWidth":1.3,"labelFont":"Liberation Sans","labelFontSize":19,"labelFontWeight":"normal",
                   "labelColor":"#111","labelOffset":17,"padding":6,"symbolOffset":10,"rowPadding":4.5,"strokeColor":"#111","fillColor":"white"}}}}
  ]
}
], "spacing": 107, "bounds": "flush", "resolve": {"scale": {"xOffset": "independent"}}}
]
}
